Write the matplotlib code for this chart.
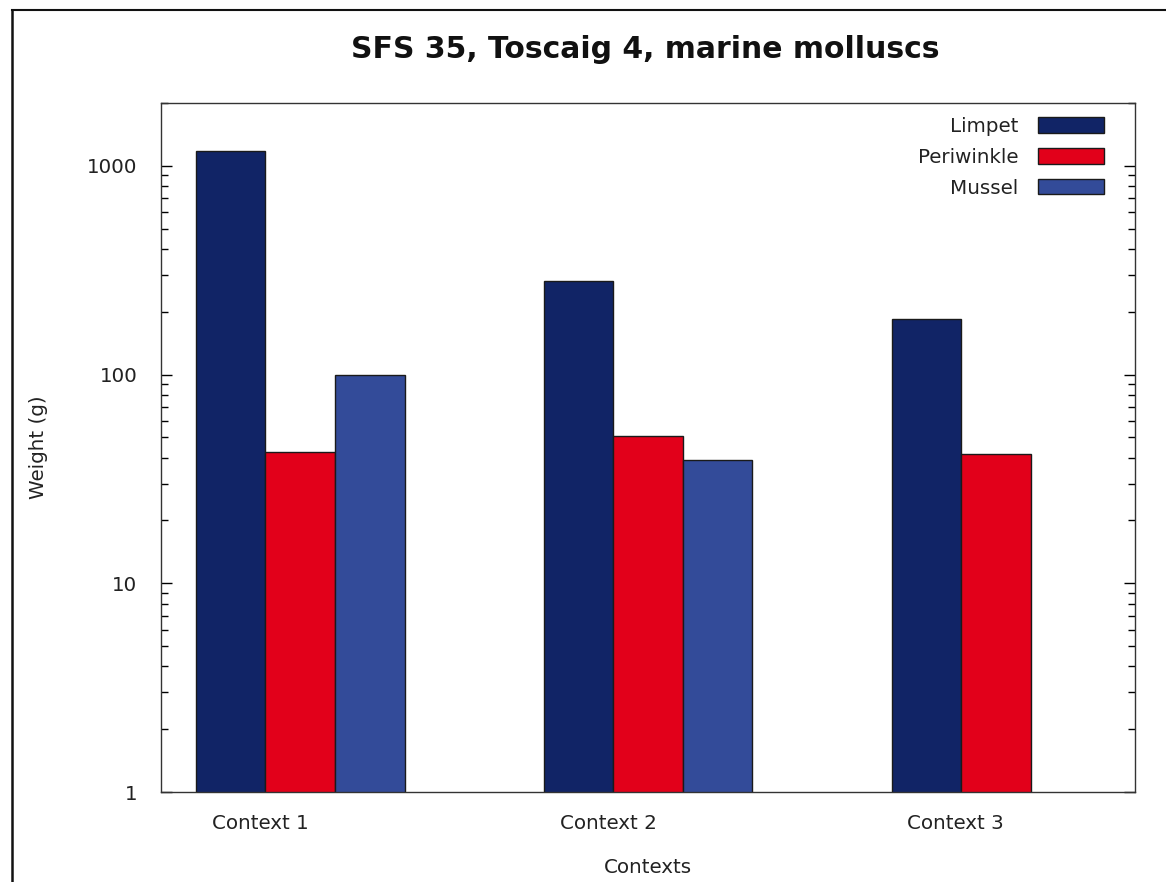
import numpy as np
import matplotlib
matplotlib.use("Agg")
import matplotlib.pyplot as plt
from matplotlib.lines import Line2D
from matplotlib.ticker import LogLocator, FixedLocator, NullFormatter

categories = ["Context 1", "Context 2", "Context 3"]
series_names = ["Limpet", "Periwinkle", "Mussel"]
limpet = [1180, 281, 185]
periwinkle = [42.7, 51, 41.8]
mussel = [99, 39.1, np.nan]
colors = ["#112466", "#e2001a", "#334b99"]

plt.rcParams['font.family'] = ['DejaVu Sans']
FS = 14.3

fig = plt.figure(figsize=(11.66, 8.82), dpi=100)
ax = fig.add_axes([161/1166, 1-792/882, (1135-161)/1166, (792-103)/882])
ax.set_yscale('log')

width = 0.2
x = np.arange(len(categories))
for k, (name, vals, c) in enumerate(zip(series_names, [limpet, periwinkle, mussel], colors)):
    vals = np.array(vals, dtype=float)
    m = ~np.isnan(vals)
    ax.bar(x[m] + (k - 1) * width, vals[m], width=width, color=c,
           edgecolor='#1a1a1a', linewidth=1.0, label=name)

ax.set_ylim(1, 2000)
ax.set_xlim(-0.4, 2.4)
ax.set_xticks(x - 0.115)
ax.set_xticklabels(categories, fontsize=FS, color='#222222')
ax.tick_params(axis='x', length=0, pad=16)
ax.yaxis.set_major_locator(FixedLocator([1, 10, 100, 1000]))
ax.set_yticklabels(["1", "10", "100", "1000"])
ax.yaxis.set_minor_locator(LogLocator(base=10, subs=np.arange(2, 10)))
ax.yaxis.set_minor_formatter(NullFormatter())
ax.tick_params(axis='y', which='major', direction='in', length=8, width=1,
               right=True, labelsize=FS, labelcolor='#222222', pad=17)
ax.tick_params(axis='y', which='minor', direction='in', length=5, width=1, right=True)
for s in ax.spines.values():
    s.set_color('#333333')
    s.set_linewidth(1.0)

ax.set_xlabel("Contexts", fontsize=FS, color='#222222', labelpad=18)
ax.set_ylabel("Weight (g)", fontsize=FS, color='#222222', labelpad=28)
fig.text(645/1166, 1-50/882, "SFS 35, Toscaig 4, marine molluscs", ha='center', va='center',
         fontsize=21.5, fontweight='bold', color='#111111')

leg = ax.legend(loc='upper right', frameon=False, markerfirst=False, fontsize=FS,
                handlelength=3.3, handleheight=0.8, labelspacing=0.6,
                handletextpad=1.0, borderaxespad=0.3, bbox_to_anchor=(0.9820, 1.0))
for t in leg.get_texts():
    t.set_color('#222222')

fig.add_artist(Line2D([12/1166, 12/1166], [0, 1-10/882], color='#111111', linewidth=1.8,
                      transform=fig.transFigure))
fig.add_artist(Line2D([12/1166, 1], [1-10/882, 1-10/882], color='#111111', linewidth=1.5,
                      transform=fig.transFigure))

fig.savefig("out.png", dpi=100)
